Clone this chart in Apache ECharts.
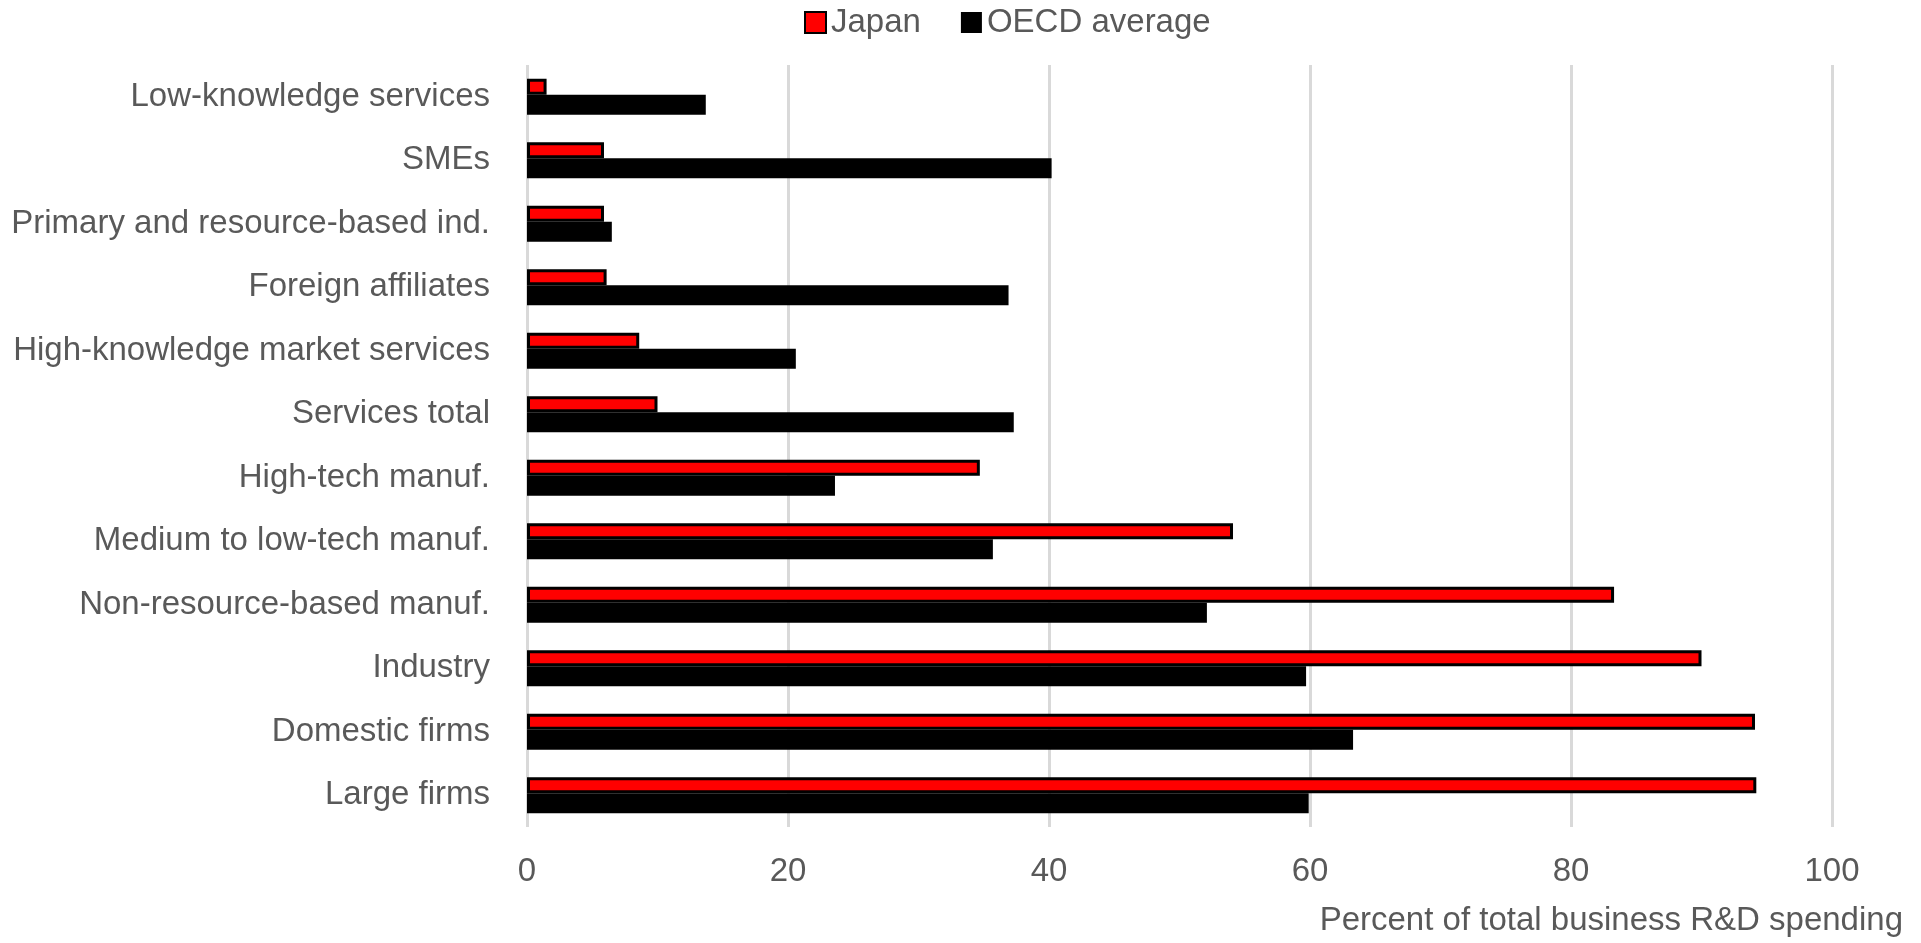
<!DOCTYPE html>
<html>
<head>
<meta charset="utf-8">
<script src="https://cdn.jsdelivr.net/npm/echarts@6/dist/echarts.min.js"></script>
<style>
html,body{margin:0;padding:0;background:#fff;}
#chart{width:1921px;height:943px;}
</style>
</head>
<body>
<div id="chart"></div>
<script>
const categories = [
  "Low-knowledge services",
  "SMEs",
  "Primary and resource-based ind.",
  "Foreign affiliates",
  "High-knowledge market services",
  "Services total",
  "High-tech manuf.",
  "Medium to low-tech manuf.",
  "Non-resource-based manuf.",
  "Industry",
  "Domestic firms",
  "Large firms"
];
const japan = [1.5, 5.9, 5.9, 6.1, 8.6, 10.0, 34.7, 54.1, 83.3, 90.0, 94.1, 94.2];
const oecd  = [13.7, 40.2, 6.5, 36.9, 20.6, 37.3, 23.6, 35.7, 52.1, 59.7, 63.3, 59.9];
const xTicks = { min: 0, max: 100, interval: 20 };
const axisTitle = "Percent of total business R&D spending";

const FONT = "'Liberation Sans', Arial, sans-serif";
const GREY = "#595959";
const FS = 33;

const chart = echarts.init(document.getElementById('chart'), null, {renderer: 'canvas'});
chart.setOption({
  backgroundColor: '#fff',
  animation: false,
  textStyle: { fontFamily: FONT },
  legend: {
    left: 804,
    top: 6,
    padding: 0,
    itemWidth: 21,
    itemHeight: 21,
    itemGap: 40,
    icon: 'rect',
    textStyle: { fontSize: FS, color: GREY, fontFamily: FONT },
    data: ['Japan', 'OECD average']
  },
  grid: { left: 527, right: 89, top: 65, bottom: 116, containLabel: false },
  xAxis: {
    type: 'value',
    min: xTicks.min,
    max: xTicks.max,
    interval: xTicks.interval,
    axisLine: { show: false },
    axisTick: { show: false },
    splitLine: { show: true, lineStyle: { color: '#d9d9d9', width: 3 } },
    axisLabel: { fontSize: FS, color: GREY, margin: 28, fontFamily: FONT },
    name: axisTitle,
    nameLocation: 'end',
    nameGap: 71,
    nameTextStyle: {
      fontSize: FS, color: GREY, fontFamily: FONT,
      align: 'right', verticalAlign: 'top', padding: [77, 0, 0, 0]
    }
  },
  yAxis: {
    type: 'category',
    inverse: true,
    data: categories,
    axisLine: { show: false },
    axisTick: { show: false },
    splitLine: { show: false },
    axisLabel: { fontSize: FS, color: GREY, margin: 37, fontFamily: FONT }
  },
  series: [
    {
      name: 'Japan',
      type: 'bar',
      data: japan,
      barWidth: 16,
      barGap: '0%',
      itemStyle: { color: '#ff0000', borderColor: '#000000', borderWidth: 3 }
    },
    {
      name: 'OECD average',
      type: 'bar',
      data: oecd,
      barWidth: 20,
      itemStyle: { color: '#000000' }
    }
  ]
});
</script>
</body>
</html>
